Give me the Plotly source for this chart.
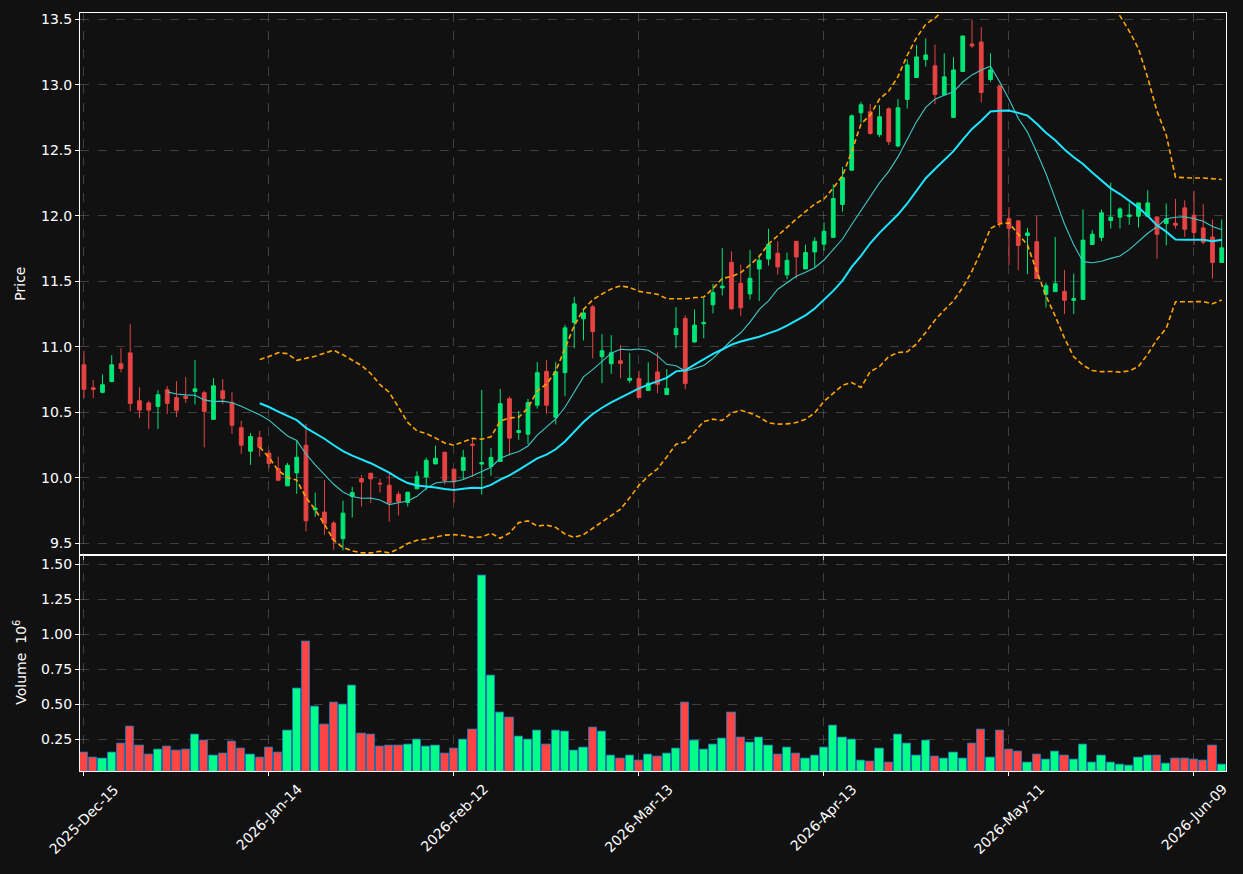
import pandas as pd
import numpy as np
import plotly.graph_objects as go

# ---------------- data ----------------
start_date = "2025-12-15"
end_date = "2026-06-12"
holidays = ["2025-12-25", "2026-01-01", "2026-01-19", "2026-02-16",
            "2026-04-03", "2026-05-25"]

opens = [10.863, 10.688, 10.653, 10.736, 10.871, 10.954, 10.589, 10.572, 10.546, 10.673,
         10.612, 10.622, 10.66, 10.65, 10.447, 10.665, 10.577, 10.384, 10.204, 10.308,
         10.19, 10.072, 9.94, 10.039, 10.249, 9.757, 9.74, 9.656, 9.537, 9.859,
         9.996, 10.036, 9.96, 9.945, 9.876, 9.813, 9.917, 10.008, 10.107, 10.196,
         10.067, 10.058, 10.258, 10.106, 10.088, 10.126, 10.605, 10.347, 10.334, 10.555,
         10.813, 10.463, 10.803, 11.186, 11.214, 11.305, 10.925, 10.871, 10.894, 10.745,
         10.758, 10.667, 10.809, 10.636, 11.093, 11.217, 11.037, 11.176, 11.321, 11.45,
         11.645, 11.485, 11.404, 11.594, 11.67, 11.714, 11.549, 11.805, 11.594, 11.724,
         11.783, 11.835, 12.086, 12.347, 12.785, 12.793, 12.618, 12.816, 12.532, 12.887,
         13.054, 13.191, 13.143, 12.922, 12.75, 13.1, 13.31, 13.325, 13.039, 12.99,
         11.978, 11.961, 11.849, 11.801, 11.4, 11.421, 11.423, 11.355, 11.362, 11.781,
         11.834, 11.963, 11.989, 11.994, 11.996, 11.996, 11.991, 11.94, 11.943, 12.06,
         12.004, 11.907, 11.837, 11.644]
highs = [10.97, 10.747, 10.79, 10.937, 10.99, 11.172, 10.693, 10.589, 10.67, 10.70,
         10.739, 10.769, 10.90, 10.665, 10.762, 10.754, 10.655, 10.435, 10.343, 10.359,
         10.215, 10.163, 10.115, 10.287, 10.414, 9.889, 9.985, 9.671, 9.828, 9.932,
         10.023, 10.04, 9.995, 10.031, 9.899, 9.892, 10.051, 10.155, 10.246, 10.2,
         10.067, 10.215, 10.298, 10.671, 10.23, 10.679, 10.623, 10.511, 10.603, 10.884,
         10.9, 10.884, 11.168, 11.381, 11.295, 11.32, 11.097, 11.089, 11.013, 10.952,
         10.817, 10.882, 10.958, 10.829, 11.303, 11.24, 11.285, 11.374, 11.48, 11.754,
         11.729, 11.627, 11.739, 11.703, 11.901, 11.805, 11.719, 11.805, 11.78, 11.835,
         11.949, 12.24, 12.372, 12.772, 12.869, 12.854, 12.843, 12.826, 12.889, 13.191,
         13.3, 13.353, 13.305, 13.239, 13.208, 13.371, 13.495, 13.437, 13.239, 12.99,
         12.065, 11.961, 11.907, 11.996, 11.489, 11.837, 11.586, 11.558, 12.047, 11.89,
         12.047, 12.252, 12.065, 12.095, 12.098, 12.194, 11.991, 12.093, 12.128, 12.118,
         12.189, 12.087, 11.971, 11.971]
lows = [10.61, 10.61, 10.645, 10.729, 10.805, 10.508, 10.458, 10.374, 10.374, 10.488,
        10.465, 10.572, 10.561, 10.234, 10.447, 10.564, 10.336, 10.184, 10.1, 10.163,
        10.075, 9.975, 9.94, 9.879, 9.593, 9.704, 9.567, 9.453, 9.448, 9.699,
        9.783, 9.81, 9.89, 9.666, 9.714, 9.783, 9.917, 9.907, 10.107, 9.95,
        9.81, 9.992, 10.007, 9.873, 10.017, 10.126, 10.172, 10.291, 10.26, 10.529,
        10.489, 10.408, 10.623, 10.99, 11.049, 10.912, 10.724, 10.795, 10.76, 10.724,
        10.614, 10.667, 10.646, 10.636, 10.989, 10.677, 11.032, 11.065, 11.255, 11.392,
        11.283, 11.234, 11.361, 11.349, 11.62, 11.551, 11.516, 11.521, 11.594, 11.607,
        11.734, 11.835, 12.032, 12.347, 12.709, 12.618, 12.6, 12.539, 12.522, 12.818,
        13.054, 13.138, 12.851, 12.922, 12.75, 13.1, 13.277, 12.864, 13.021, 11.911,
        11.625, 11.586, 11.555, 11.522, 11.299, 11.421, 11.251, 11.251, 11.362, 11.781,
        11.806, 11.902, 11.902, 11.93, 11.91, 11.996, 11.672, 11.773, 11.902, 11.839,
        11.778, 11.781, 11.52, 11.644]
closes = [10.676, 10.676, 10.711, 10.863, 10.835, 10.569, 10.518, 10.518, 10.635, 10.569,
          10.516, 10.607, 10.68, 10.508, 10.703, 10.605, 10.402, 10.25, 10.316, 10.234,
          10.11, 9.983, 10.097, 10.158, 9.674, 9.77, 9.651, 9.529, 9.732, 9.889,
          9.97, 9.993, 9.955, 9.81, 9.818, 9.892, 10.013, 10.135, 10.15, 9.98,
          9.972, 10.157, 10.25, 10.118, 10.157, 10.567, 10.304, 10.362, 10.575, 10.803,
          10.555, 10.81, 11.145, 11.328, 11.259, 11.117, 10.97, 10.955, 10.874, 10.76,
          10.614, 10.723, 10.715, 10.684, 11.141, 10.72, 11.166, 11.186, 11.414, 11.463,
          11.29, 11.298, 11.523, 11.66, 11.782, 11.61, 11.66, 11.686, 11.719, 11.805,
          11.881, 12.131, 12.291, 12.762, 12.846, 12.628, 12.755, 12.565, 12.823, 13.15,
          13.211, 13.226, 12.925, 13.059, 13.112, 13.371, 13.295, 12.94, 13.112, 11.944,
          11.904, 11.773, 11.869, 11.522, 11.466, 11.482, 11.355, 11.368, 11.814, 11.859,
          12.022, 11.989, 12.052, 12.006, 12.098, 12.098, 11.859, 11.976, 11.928, 11.897,
          11.872, 11.798, 11.644, 11.755]
volumes_m = [0.15, 0.114, 0.107, 0.15, 0.221, 0.336, 0.2, 0.136, 0.171, 0.193,
             0.164, 0.171, 0.279, 0.236, 0.129, 0.143, 0.229, 0.179, 0.136, 0.114,
             0.186, 0.15, 0.307, 0.614, 0.95, 0.486, 0.35, 0.514, 0.5, 0.636,
             0.286, 0.279, 0.193, 0.2, 0.2, 0.207, 0.243, 0.193, 0.2, 0.143,
             0.179, 0.243, 0.321, 1.421, 0.707, 0.436, 0.407, 0.271, 0.243, 0.314,
             0.207, 0.307, 0.3, 0.164, 0.186, 0.329, 0.3, 0.129, 0.107, 0.129,
             0.093, 0.136, 0.121, 0.143, 0.179, 0.514, 0.236, 0.171, 0.207, 0.25,
             0.443, 0.257, 0.226, 0.257, 0.2, 0.136, 0.186, 0.143, 0.107, 0.129,
             0.186, 0.343, 0.264, 0.243, 0.093, 0.086, 0.179, 0.079, 0.279, 0.214,
             0.129, 0.236, 0.121, 0.107, 0.15, 0.107, 0.221, 0.321, 0.114, 0.314,
             0.171, 0.157, 0.079, 0.136, 0.1, 0.157, 0.129, 0.1, 0.207, 0.079,
             0.129, 0.079, 0.064, 0.057, 0.114, 0.129, 0.129, 0.071, 0.107, 0.107,
             0.1, 0.093, 0.2, 0.064]

# ---------------- derived ----------------
dates = [d for d in pd.bdate_range(start_date, end_date)
         if d.strftime("%Y-%m-%d") not in holidays]
n = len(closes)
idx = list(range(n))
close_s = pd.Series(closes)
ma10 = close_s.rolling(10).mean()
ma20 = close_s.rolling(20).mean()
sd20 = close_s.rolling(20).std(ddof=0)
upper = ma20 + 2 * sd20
lower = ma20 - 2 * sd20

tick_step = 20
tickvals = idx[::tick_step]
ticktext = [dates[i].strftime("%Y-%b-%d") for i in tickvals]

UP_C, DN_C = "#00e676", "#e84343"
VUP_C, VDN_C = "#00ff88", "#ff4444"
vol_colors = [VUP_C if c >= o else VDN_C for o, c in zip(opens, closes)]

BG = "#111111"
FONT = "DejaVu Sans"
GRID = "rgba(120,120,120,0.45)"

fig = go.Figure()
fig.add_trace(go.Candlestick(
    x=idx, open=opens, high=highs, low=lows, close=closes,
    increasing=dict(line=dict(color=UP_C, width=1), fillcolor=UP_C),
    decreasing=dict(line=dict(color=DN_C, width=1), fillcolor=DN_C),
    whiskerwidth=0, xaxis="x", yaxis="y", showlegend=False))
fig.add_trace(go.Scatter(x=idx, y=ma10, mode="lines",
                         line=dict(color="#3fc8c8", width=1.1), xaxis="x", yaxis="y",
                         showlegend=False))
fig.add_trace(go.Scatter(x=idx, y=ma20, mode="lines",
                         line=dict(color="#1ee6ff", width=2), xaxis="x", yaxis="y",
                         showlegend=False))
for band in (upper, lower):
    fig.add_trace(go.Scatter(x=idx, y=band, mode="lines",
                             line=dict(color="#ffa500", width=1.6, dash="5px,3px"),
                             xaxis="x", yaxis="y", showlegend=False))
fig.add_trace(go.Bar(x=idx, y=volumes_m, marker=dict(color=vol_colors,
                     line=dict(color="#1f77b4", width=0.9)),
                     width=0.9, xaxis="x2", yaxis="y2", showlegend=False))

split = 217 / 760
xr = [-0.43, 123.46]
axis_common = dict(showline=True, mirror=True, linecolor="white", linewidth=1,
                   showgrid=True, gridcolor=GRID, griddash="dash", gridwidth=1,
                   zeroline=False, tickfont=dict(family=FONT, size=14, color="white"),
                   ticks="outside", tickcolor="white", ticklen=4)

# rotated date labels centred under their ticks
date_labels = [dict(text=t, xref="x2", yref="paper", x=v, y=0, yshift=-7,
                    xanchor="center", yanchor="top", textangle=-45, showarrow=False,
                    font=dict(family=FONT, size=14, color="white"))
               for v, t in zip(tickvals, ticktext)]

fig.update_layout(
    width=1243, height=874,
    paper_bgcolor=BG, plot_bgcolor=BG,
    margin=dict(l=80, r=17, t=11, b=103),
    font=dict(family=FONT, color="white", size=14),
    boxgap=0.42,
    bargap=0,
    xaxis=dict(**axis_common, domain=[0, 1], anchor="y", range=xr,
               tickvals=tickvals, showticklabels=False,
               rangeslider=dict(visible=False)),
    yaxis=dict(**axis_common, domain=[split, 1], anchor="x", range=[9.416, 13.546],
               dtick=0.5, tick0=9.5, tickformat=".1f"),
    xaxis2=dict(**axis_common, domain=[0, 1], anchor="y2", range=xr, matches="x",
                tickvals=tickvals, showticklabels=False),
    yaxis2=dict(**axis_common, domain=[0, split], anchor="x2", range=[0.021, 1.571],
                tickvals=[0.25, 0.5, 0.75, 1.0, 1.25, 1.5], tickformat=".2f"),
    annotations=date_labels + [
        dict(text="Price", xref="paper", yref="paper", x=-0.052, y=(771 - 282) / 760,
             textangle=-90, showarrow=False, xanchor="center", yanchor="middle",
             font=dict(family=FONT, size=14, color="white")),
        dict(text="Volume  10<sup>6</sup>", xref="paper", yref="paper", x=-0.052,
             y=(771 - 662) / 760, textangle=-90, showarrow=False, xanchor="center",
             yanchor="middle", font=dict(family=FONT, size=14, color="white")),
    ],
)

fig.write_html("out.html")
